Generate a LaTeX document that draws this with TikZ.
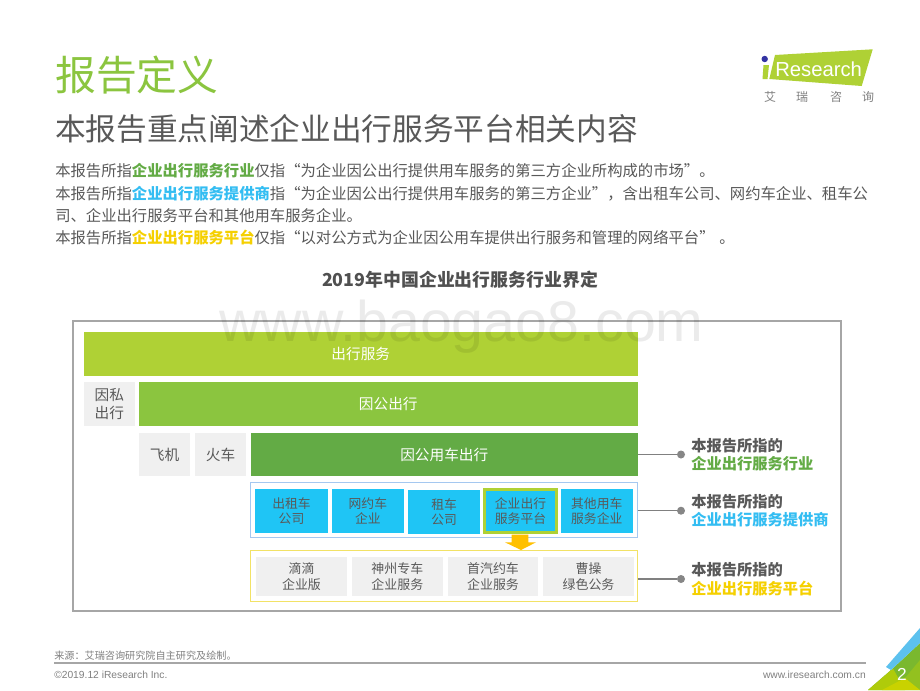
\documentclass[tikz,border=0pt]{standalone}
\usepackage{fontspec}
\setmainfont{Noto Sans CJK SC}
\newfontfamily\latinfont{Liberation Sans}
\usetikzlibrary{calc}
\definecolor{txt}{HTML}{595959}
\definecolor{lime}{HTML}{AFD135}
\definecolor{leaf}{HTML}{8BC53F}
\definecolor{deep}{HTML}{63AB45}
\definecolor{sky}{HTML}{1FC5F5}
\definecolor{skyt}{HTML}{33BDF2}
\definecolor{gold}{HTML}{F5D000}
\definecolor{pale}{HTML}{F0F0F0}
\definecolor{framec}{HTML}{A6A6A6}
\definecolor{bluef}{HTML}{A5C8F0}
\definecolor{yellowf}{HTML}{F2E266}
\definecolor{amber}{HTML}{FFC000}
\definecolor{c1}{HTML}{7AB82E}
\definecolor{c2}{HTML}{AFCB0A}
\definecolor{c3}{HTML}{C9D200}
\definecolor{c4}{HTML}{93C11F}
\definecolor{c5}{HTML}{5CC1EE}
\newcommand{\fs}[1]{\fontsize{#1}{#1}\selectfont}
\newcommand{\fb}[2]{\fontsize{#1}{#2}\selectfont}
\tikzset{
  box/.style n args={4}{draw=none,inner sep=0pt,outer sep=0pt,anchor=north west,minimum width=#3*0.75pt,minimum height=#4*0.75pt,at={(#1,#2)},align=center},
  bar/.style={fill=#1,text=white,font=\fs{11}},
  grey/.style={fill=pale,text=txt,font=\fs{11}},
  blue/.style={fill=sky,text=txt,font=\fb{9.6}{11.3},align=center},
  shop/.style={fill=pale,text=txt,font=\fb{9.7}{11.6},align=center},
  line/.style={anchor=west,inner sep=0pt,text=txt,font=\fs{11.5}},
  tag/.style={anchor=west,inner sep=0pt,font=\fs{11.45}\bfseries},
  dot/.style={circle,fill=gray!95,inner sep=0pt,minimum size=6pt},
  link/.style={draw=gray,line width=1.1pt},
}
\begin{document}
\begin{tikzpicture}[x=0.75pt,y=-0.75pt]
\useasboundingbox (0,0) rectangle (920,690);
\fill[white] (0,0) rectangle (920,690);
% titles
\node[anchor=west,inner sep=0pt,text=leaf,font=\fs{30.6}] (title) at (55,75) {报告定义};
\node[anchor=west,inner sep=0pt,text=txt,font=\fs{23}] (sub) at (55,129) {本报告重点阐述企业出行服务平台相关内容};
% logo
\fill[lime] (775,55) -- (872.7,49.3) -- (861.7,86) -- (769.3,79) -- cycle;
\fill[lime] (763.5,65) -- (769,65) -- (767.5,79) -- (762.5,79) -- cycle;
\fill[blue!55!black!80] (764.7,59) circle (2.4pt);
\node[anchor=west,inner sep=0pt,text=white,font=\latinfont\fs{15.2}] (logo) at (775,69) {Research};
\foreach \x/\c in {770/艾,802/瑞,836/咨,868/询}
  \node[text=gray,font=\fs{9},inner sep=0pt] (logo\c) at (\x,97) {\c};
% body
\node[line] (l1) at (55,171) {本报告所指\textcolor{deep}{\bfseries 企业出行服务行业}仅指“为企业因公出行提供用车服务的第三方企业所构成的市场”。};
\node[line] (l2) at (55,193.5) {本报告所指\textcolor{skyt}{\bfseries 企业出行服务提供商}指“为企业因公出行提供用车服务的第三方企业”，含出租车公司、网约车企业、租车公};
\node[line] (l3) at (55,216) {司、企业出行服务平台和其他用车服务企业。};
\node[line] (l4) at (55,237.5) {本报告所指\textcolor{gold}{\bfseries 企业出行服务平台}仅指“以对公方式为企业因公用车提供出行服务和管理的网络平台”\hspace{3.5pt}。};
\node[inner sep=0pt,text=txt!90!black,font=\fs{13.4}\bfseries] (head) at (460,279.5) {2019年中国企业出行服务行业界定};
% frame
\draw[draw=framec,line width=0.8pt] (73,321) rectangle (841,611);
% rows
\node[box={84}{332}{553.5}{43.7},bar=lime] (n1) {出行服务};
\node[box={84}{382}{50.5}{44},grey,font=\fb{11}{13.5},align=center] (n2) {因私\\出行};
\node[box={139}{382}{498.5}{44},bar=leaf] (n3) {因公出行};
\node[box={139}{433}{51}{43},grey] (n4) {飞机};
\node[box={195}{433}{51}{43},grey] (n5) {火车};
\node[box={251}{433}{386.5}{43},bar=deep] (n6) {因公用车出行};
% blue group
\node[box={250.7}{482.7}{387}{55},draw=bluef,line width=0.8pt] (g1) {};
\node[box={255.3}{489.3}{72.4}{43.4},blue] (b1) {出租车\\公司};
\node[box={331.7}{489.3}{72.3}{43.4},blue] (b2) {网约车\\企业};
\node[box={408}{490.3}{72.3}{43.4},blue] (b3) {租车\\公司};
\node[box={484.5}{489.5}{72}{43},blue,draw=lime,line width=1.9pt] (b4) {企业出行\\服务平台};
\node[box={560.5}{489.3}{72.5}{43.4},blue] (b5) {其他用车\\服务企业};
% yellow group
\node[box={250.7}{550.3}{387}{51},draw=yellowf,line width=0.9pt] (g2) {};
\node[box={256}{556.7}{91}{39.3},shop] (s1) {滴滴\\企业版};
\node[box={352}{556.7}{90.7}{39.3},shop] (s2) {神州专车\\企业服务};
\node[box={448}{556.7}{90}{39.3},shop] (s3) {首汽约车\\企业服务};
\node[box={543}{556.7}{91}{39.3},shop] (s4) {曹操\\绿色公务};
% arrow
\fill[amber] (511.7,534.5) -- (528.3,534.5) -- (528.3,542.3) -- (536,542.3) -- (521,550) -- (505,542.3) -- (511.7,542.3) -- cycle;
% connectors
\node[dot] (d1) at (681,454.5) {};
\node[dot] (d2) at (681,510.7) {};
\node[dot] (d3) at (681,579) {};
\draw[link] (n6.east |- d1) -- (d1);
\draw[link] (g1.east |- d2) -- (d2);
\draw[link] (g2.east |- d3) -- (d3);
% tags
\node[tag,text=txt] (t1a) at (691,446) {本报告所指的};
\node[tag,text=deep] (t1b) at (691,464) {企业出行服务行业};
\node[tag,text=txt] (t2a) at (691,502) {本报告所指的};
\node[tag,text=skyt] (t2b) at (691,520) {企业出行服务提供商};
\node[tag,text=txt] (t3a) at (691,570) {本报告所指的};
\node[tag,text=gold] (t3b) at (691,589) {企业出行服务平台};
% footer
\node[anchor=west,inner sep=0pt,text=gray,font=\fs{7.6}] (src) at (54,656) {来源：艾瑞咨询研究院自主研究及绘制。};
\draw[draw=framec,line width=1pt] (54,663) -- (866,663);
\node[anchor=west,inner sep=0pt,text=gray,font=\latinfont\fs{7.7}] (copy) at (54,675) {©2019.12 iResearch Inc.};
\node[anchor=east,inner sep=0pt,text=gray,font=\latinfont\fs{7.7}] (web) at (866,675) {www.iresearch.com.cn};
% corner
\fill[c1] (891,670) -- (920,643) -- (920,690) -- (868,690) -- cycle;
\fill[c4] (905,678) -- (920,660) -- (920,690) -- cycle;
\fill[c2] (868,690) -- (893,668.5) -- (905,690) -- cycle;
\fill[c3] (882,690) -- (905,678) -- (920,690) -- cycle;
\fill[c5] (920,628) -- (886,667) -- (891,670) -- (920,643) -- cycle;
\node[text=white,inner sep=0pt,font=\latinfont\fs{13}] (page) at (902,674) {2};
% watermark
\node[text=black,opacity=0.08,inner sep=0pt,font=\latinfont\fs{43}] (mark) at (461.5,327) {www.baogao8.com};
\end{tikzpicture}
\end{document}
